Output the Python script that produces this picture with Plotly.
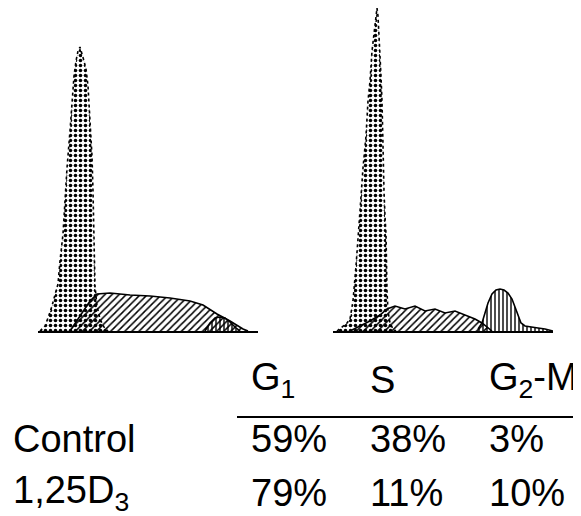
import plotly.graph_objects as go

# ---------------- data (DNA-content channel vs cell count) ----------------
# Control
ctrl_g1_ch = [2, 7, 10, 14, 18, 20, 22, 25, 27, 29, 32, 34, 36, 38, 40, 42, 44, 46, 48, 50, 52, 54, 55, 56, 57, 59, 62, 66, 70]
ctrl_g1_ct = [0, 5, 13, 25, 40, 47, 70, 97, 130, 163, 200, 230, 255, 270, 280, 284, 278, 270, 262, 245, 210, 175, 140, 90, 45, 25, 12, 4, 0]
ctrl_s_ch = [32, 42, 52, 59, 72, 92, 112, 132, 152, 165, 179, 192, 205, 210]
ctrl_s_ct = [0, 15, 30, 37, 38, 36, 35, 33, 30, 26, 17, 10, 2, 0]
ctrl_g2_ch = [167, 172, 177, 182, 187, 192, 197, 202]
ctrl_g2_ct = [0, 8, 13, 14, 13, 9, 4, 0]

# 1,25D3 treated
trt_g1_ch = [4, 9, 14, 17, 20, 23, 25, 27, 30, 33, 35, 37, 39, 41, 43, 44, 45, 47, 48, 49, 50, 51, 52, 53, 54, 55, 57, 60, 63]
trt_g1_ct = [0, 4, 8, 12, 30, 65, 97, 120, 163, 195, 230, 250, 280, 300, 315, 323, 315, 280, 255, 230, 170, 140, 115, 97, 40, 20, 8, 2, 0]
trt_s_ch = [17, 27, 37, 47, 54, 62, 72, 82, 92, 102, 112, 122, 132, 142, 149, 155, 159]
trt_s_ct = [0, 5, 10, 16, 22, 25, 22, 25, 20, 22, 18, 20, 16, 12, 8, 3, 0]
trt_g2_ch = [145, 149, 152, 155, 159, 163, 167, 171, 175, 179, 182, 185, 188, 192, 197, 205, 212, 220]
trt_g2_ct = [2, 8, 18, 28, 37, 41, 42, 41, 38, 32, 24, 15, 8, 5, 4, 3, 2, 0]

phases = ["G<sub>1</sub>", "S", "G<sub>2</sub>-M"]
row_labels = ["Control", "1,25D<sub>3</sub>"]
row_values = [["59%", "38%", "3%"], ["79%", "11%", "10%"]]

# ---------------- figure ----------------
OFF = 8  # page body margin in the browser
W, H = 581 - OFF, 516 - OFF
fig = go.Figure()


def xp(px):
    return (px - OFF) / W


def yp(py):
    return 1 - (py - OFF) / H


styles = {
    "g1": dict(shape=".", size=5, solidity=0.4),
    "s": dict(shape="/", size=5, solidity=0.3),
    "g2": dict(shape="|", size=4, solidity=0.35),
}


def add_phase(x, y, key, xa, ya):
    st = styles[key]
    fig.add_trace(go.Scatter(
        x=x, y=y, mode="lines", fill="tozeroy",
        xaxis=xa, yaxis=ya,
        line=dict(color="black", width=1.6, dash="dot" if key == "g1" else "solid"),
        fillcolor="rgba(0,0,0,0)",
        fillpattern=dict(shape=st["shape"], size=st["size"], solidity=st["solidity"],
                         fgcolor="black", bgcolor="rgba(0,0,0,0)", fillmode="replace"),
        hoverinfo="skip", showlegend=False,
    ))


add_phase(ctrl_g1_ch, ctrl_g1_ct, "g1", "x", "y")
add_phase(ctrl_s_ch, ctrl_s_ct, "s", "x", "y")
add_phase(ctrl_g2_ch, ctrl_g2_ct, "g2", "x", "y")
add_phase(trt_g1_ch, trt_g1_ct, "g1", "x2", "y2")
add_phase(trt_s_ch, trt_s_ct, "s", "x2", "y2")
add_phase(trt_g2_ch, trt_g2_ct, "g2", "x2", "y2")

base_px = 331
ydom = [yp(base_px), 1.0]
yrange = [0, base_px - OFF]
ax_common = dict(showgrid=False, zeroline=False, showticklabels=False, ticks="")
fig.update_layout(
    width=W, height=H,
    margin=dict(l=0, r=0, t=0, b=0),
    paper_bgcolor="white", plot_bgcolor="rgba(0,0,0,0)",
    xaxis=dict(domain=[xp(38), xp(258)], range=[0, 220], anchor="y",
               showline=True, linecolor="black", linewidth=1.5, **ax_common),
    yaxis=dict(domain=ydom, range=yrange, anchor="x", showline=False, **ax_common),
    xaxis2=dict(domain=[xp(333), xp(553)], range=[0, 220], anchor="y2",
                showline=True, linecolor="black", linewidth=1.5, **ax_common),
    yaxis2=dict(domain=ydom, range=yrange, anchor="x2", showline=False, **ax_common),
    showlegend=False,
)

font = dict(family="Liberation Sans", size=38, color="black")
col_x = [249, 368, 487]
header_mid = 380
row_mid = [439, 493]

for cx, ph in zip(col_x, phases):
    fig.add_annotation(x=xp(cx), y=yp(header_mid), xref="paper", yref="paper",
                       text=ph, showarrow=False, xanchor="left", yanchor="middle",
                       font=font)
for r, (lab, vals) in enumerate(zip(row_labels, row_values)):
    fig.add_annotation(x=xp(11), y=yp(row_mid[r]), xref="paper", yref="paper",
                       text=lab, showarrow=False, xanchor="left", yanchor="middle",
                       font=font)
    for cx, v in zip(col_x, vals):
        fig.add_annotation(x=xp(cx), y=yp(row_mid[r]), xref="paper", yref="paper",
                           text=v, showarrow=False, xanchor="left", yanchor="middle",
                           font=font)

fig.add_shape(type="line", xref="paper", yref="paper",
              x0=xp(237), x1=1.0, y0=yp(417), y1=yp(417),
              line=dict(color="black", width=2))

fig.write_html("out.html")
